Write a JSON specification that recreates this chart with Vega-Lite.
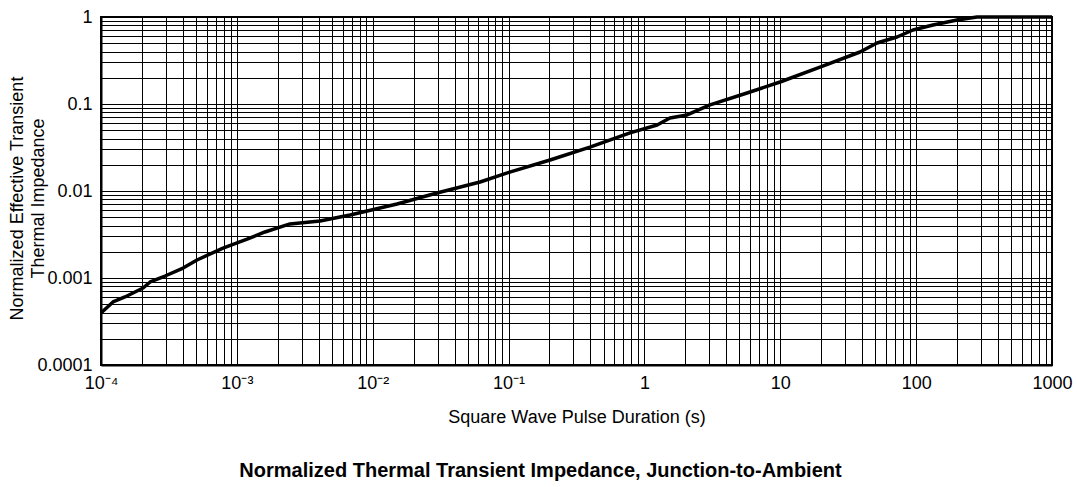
{
  "$schema": "https://vega.github.io/schema/vega-lite/v6.json",
  "width": 951,
  "height": 348,
  "autosize": {"type": "none"},
  "padding": {"left": 101, "top": 17, "right": 25, "bottom": 122},
  "background": "#ffffff",
  "title": {
    "text": "Normalized Thermal Transient Impedance, Junction-to-Ambient",
    "orient": "bottom",
    "anchor": "middle",
    "font": "Liberation Sans",
    "fontSize": 20,
    "fontWeight": "bold",
    "color": "#000000",
    "offset": 35,
    "dx": -36
  },
  "data": {
    "values": [
      {"t": 0.0001, "z": 0.000396},
      {"t": 0.0001225, "z": 0.00053},
      {"t": 0.00015, "z": 0.000605},
      {"t": 0.000204, "z": 0.000767},
      {"t": 0.00023, "z": 0.0009},
      {"t": 0.000296, "z": 0.001054},
      {"t": 0.000402, "z": 0.0013},
      {"t": 0.000509, "z": 0.00161},
      {"t": 0.000791, "z": 0.00221},
      {"t": 0.00119, "z": 0.0028},
      {"t": 0.00161, "z": 0.00338},
      {"t": 0.00246, "z": 0.00418},
      {"t": 0.00409, "z": 0.00452},
      {"t": 0.00681, "z": 0.0053},
      {"t": 0.0151, "z": 0.0071},
      {"t": 0.0297, "z": 0.0095},
      {"t": 0.0617, "z": 0.0127},
      {"t": 0.102, "z": 0.0165},
      {"t": 0.202, "z": 0.0227},
      {"t": 0.397, "z": 0.032},
      {"t": 0.783, "z": 0.0465},
      {"t": 1.24, "z": 0.0574},
      {"t": 1.54, "z": 0.069},
      {"t": 2.06, "z": 0.0748},
      {"t": 3.04, "z": 0.0975},
      {"t": 5.69, "z": 0.1337},
      {"t": 9.96, "z": 0.179},
      {"t": 19.6, "z": 0.266},
      {"t": 38.6, "z": 0.396},
      {"t": 51.5, "z": 0.502},
      {"t": 72.3, "z": 0.589},
      {"t": 94.8, "z": 0.709},
      {"t": 133, "z": 0.809},
      {"t": 200, "z": 0.924},
      {"t": 281, "z": 1.0},
      {"t": 1000, "z": 1.0}
    ]
  },
  "mark": {"type": "line", "color": "#000000", "strokeWidth": 3.5, "strokeJoin": "round", "clip": false},
  "encoding": {
    "x": {
      "field": "t",
      "type": "quantitative",
      "scale": {"type": "log", "domain": [0.0001, 1000], "nice": false},
      "axis": {
        "title": "Square Wave Pulse Duration (s)",
        "values": [0.0001, 0.0002, 0.0003, 0.0004, 0.0005, 0.0006, 0.0007, 0.0008, 0.0009,
                   0.001, 0.002, 0.003, 0.004, 0.005, 0.006, 0.007, 0.008, 0.009,
                   0.01, 0.02, 0.03, 0.04, 0.05, 0.06, 0.07, 0.08, 0.09,
                   0.1, 0.2, 0.3, 0.4, 0.5, 0.6, 0.7, 0.8, 0.9,
                   1, 2, 3, 4, 5, 6, 7, 8, 9,
                   10, 20, 30, 40, 50, 60, 70, 80, 90,
                   100, 200, 300, 400, 500, 600, 700, 800, 900, 1000],
        "labelExpr": "datum.value == 0.0001 ? '10⁻⁴' : datum.value == 0.001 ? '10⁻³' : datum.value == 0.01 ? '10⁻²' : datum.value == 0.1 ? '10⁻¹' : datum.value == 1 ? '1' : datum.value == 10 ? '10' : datum.value == 100 ? '100' : datum.value == 1000 ? '1000' : ''",
        "labelPadding": 9,
        "titlePadding": 16
      }
    },
    "y": {
      "field": "z",
      "type": "quantitative",
      "scale": {"type": "log", "domain": [0.0001, 1], "nice": false},
      "axis": {
        "title": ["Normalized Effective Transient", "Thermal Impedance"],
        "values": [0.0001, 0.0002, 0.0003, 0.0004, 0.0005, 0.0006, 0.0007, 0.0008, 0.0009,
                   0.001, 0.002, 0.003, 0.004, 0.005, 0.006, 0.007, 0.008, 0.009,
                   0.01, 0.02, 0.03, 0.04, 0.05, 0.06, 0.07, 0.08, 0.09,
                   0.1, 0.2, 0.3, 0.4, 0.5, 0.6, 0.7, 0.8, 0.9, 1],
        "labelExpr": "datum.value == 1 ? '1' : datum.value == 0.1 ? '0.1' : datum.value == 0.01 ? '0.01' : datum.value == 0.001 ? '0.001' : datum.value == 0.0001 ? '0.0001' : ''",
        "labelPadding": 9,
        "titleX": -75,
        "titleY": 181,
        "titleLineHeight": 21
      }
    }
  },
  "config": {
    "font": "Liberation Sans",
    "view": {"stroke": "#000000", "strokeWidth": 2},
    "axis": {
      "grid": true,
      "gridColor": "#000000",
      "gridOpacity": 1,
      "gridWidth": 1,
      "ticks": false,
      "tickSize": 0,
      "domain": true,
      "domainColor": "#000000",
      "domainWidth": 2,
      "labelFont": "Liberation Sans",
      "labelFontSize": 18,
      "labelColor": "#000000",
      "labelOverlap": false,
      "labelFlush": false,
      "labelBound": false,
      "titleFont": "Liberation Sans",
      "titleFontSize": 18,
      "titleFontWeight": "normal",
      "titleColor": "#000000"
    }
  }
}
